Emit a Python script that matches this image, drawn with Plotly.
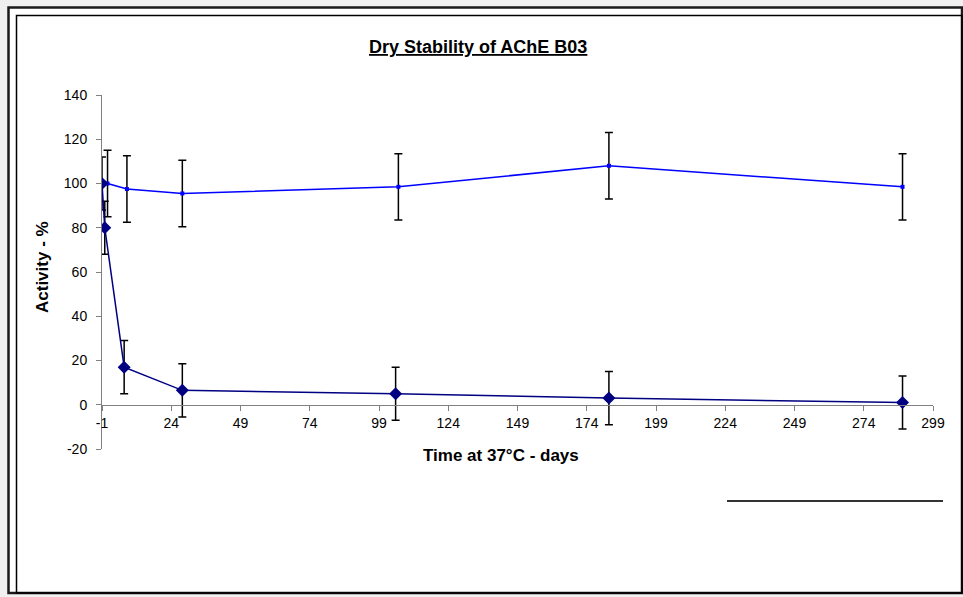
import plotly.graph_objects as go

# ---- data ----
s1_days = [-1, 0, 7, 28, 105, 182, 288]
s1_activity = [100, 80, 17, 6.5, 5, 3, 1]
s1_error = [12, 12, 12, 12, 12, 12, 12]

s2_days = [1, 8, 28, 106, 182, 288]
s2_activity = [100, 97.5, 95.5, 98.5, 108, 98.5]
s2_error = [15, 15, 15, 15, 15, 15]

x_ticks = [-1, 24, 49, 74, 99, 124, 149, 174, 199, 224, 249, 274, 299]
y_ticks = [-20, 0, 20, 40, 60, 80, 100, 120, 140]

W, H = 963, 597
L, R, T, B = 102, 30, 95, 148
PW, PH = W - L - R, H - T - B

def px(x):
    return (x - L) / PW

def py(y):
    return 1 - (y - T) / PH

FONT = "Liberation Sans, Arial, sans-serif"

fig = go.Figure()

fig.add_trace(go.Scatter(
    x=s2_days, y=s2_activity, mode="lines+markers",
    line=dict(color="#0000FF", width=1.5),
    marker=dict(symbol="square", size=4, color="#0000FF"),
    error_y=dict(type="data", array=s2_error, visible=True,
                 color="#000000", thickness=1.5, width=4),
    showlegend=False,
))
fig.add_trace(go.Scatter(
    x=s1_days, y=s1_activity, mode="lines+markers",
    line=dict(color="#000080", width=1.5),
    marker=dict(symbol="diamond", size=10, color="#000080"),
    error_y=dict(type="data", array=s1_error, visible=True,
                 color="#000000", thickness=1.5, width=4),
    showlegend=False,
))

shapes = [
    dict(type="rect", xref="paper", yref="paper", layer="below",
         x0=px(8.5), x1=px(962), y0=py(7.5), y1=py(593),
         fillcolor="#FFFFFF", line=dict(color="#1A1A1A", width=2.5)),
    dict(type="rect", xref="paper", yref="paper", layer="below",
         x0=px(16.5), x1=px(962), y0=py(15.5), y1=py(593),
         fillcolor="rgba(0,0,0,0)", line=dict(color="#000000", width=1.5)),
    dict(type="line", xref="paper", yref="paper",
         x0=px(727), x1=px(943), y0=py(501), y1=py(501),
         line=dict(color="#333333", width=2)),
]

annotations = [
    dict(text="<b><u>Dry Stability of AChE B03</u></b>", xref="paper", yref="paper",
         x=px(478), y=py(47), showarrow=False, xanchor="center", yanchor="middle",
         font=dict(family=FONT, size=18, color="#000")),
    dict(text="<b>Activity - %</b>", xref="paper", yref="paper",
         x=px(42), y=py(267), showarrow=False, textangle=-90,
         xanchor="center", yanchor="middle",
         font=dict(family=FONT, size=17, color="#000")),
    dict(text="<b>Time at 37°C - days</b>", xref="paper", yref="paper",
         x=px(501), y=py(455), showarrow=False, xanchor="center", yanchor="middle",
         font=dict(family=FONT, size=17, color="#000")),
]

fig.update_layout(
    width=W, height=H,
    margin=dict(l=L, r=R, t=T, b=B, pad=0),
    paper_bgcolor="#F0F0F0",
    plot_bgcolor="rgba(0,0,0,0)",
    shapes=shapes,
    annotations=annotations,
    font=dict(family=FONT, size=14, color="#000"),
    xaxis=dict(
        range=[-1, 299], tickmode="array", tickvals=x_ticks,
        ticktext=[str(v) for v in x_ticks],
        showgrid=False, zeroline=False,
        showline=True, linecolor="#808080", linewidth=1,
        ticks="outside", ticklen=5, tickcolor="#808080",
        anchor="free", position=20 / 160,
        tickfont=dict(family=FONT, size=14, color="#000"),
    ),
    yaxis=dict(
        range=[-20, 140], tickmode="array", tickvals=y_ticks,
        ticktext=[str(v) for v in y_ticks],
        showgrid=False, zeroline=False,
        showline=True, linecolor="#808080", linewidth=1,
        ticks="outside", ticklen=5, tickcolor="#808080",
        ticklabelstandoff=6,
        tickfont=dict(family=FONT, size=14, color="#000"),
    ),
)

fig.write_html("out.html",
               config={"displayModeBar": False},
               post_script="document.body.style.margin='0';document.body.style.overflow='hidden';")
